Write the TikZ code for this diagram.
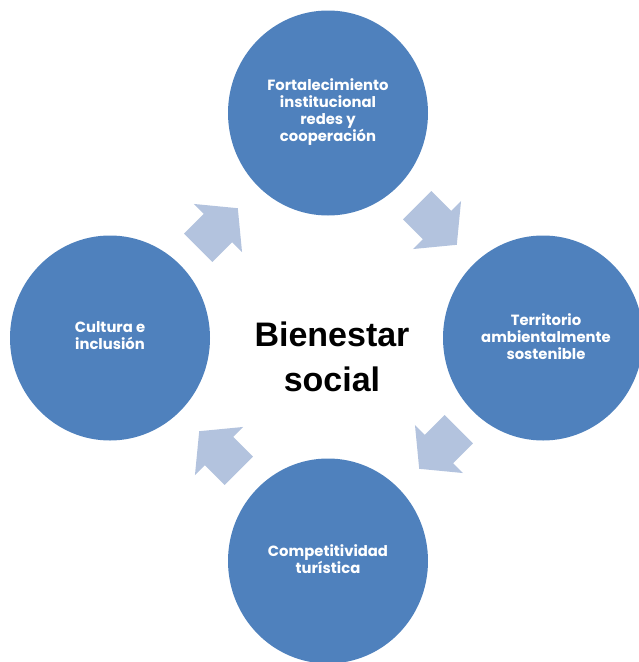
\documentclass[tikz,border=0pt]{standalone}
\usepackage{fontspec}
\setmainfont{Liberation Sans}
\newfontfamily\circfont{Poppins}
\usetikzlibrary{shapes.geometric}
\definecolor{circblue}{HTML}{4F81BD}
\definecolor{arrowblue}{HTML}{B3C3DE}
\tikzset{
  circ/.style={ellipse, fill=circblue, minimum width=200pt, minimum height=205pt, inner sep=0pt},
  circtext/.style={text=white, align=center, font=\circfont\bfseries\fontsize{14.8}{17}\selectfont},
  blockarrow/.style={fill=arrowblue, draw=none}
}
\newcommand{\cyclearrow}[3]{%
  \begin{scope}[shift={(#1,#2)}, rotate=#3]
    \fill[arrowblue] (-28,-20) -- (0,-20) -- (0,-34) -- (28,0) -- (0,34) -- (0,20) -- (-28,20) -- cycle;
  \end{scope}}
\begin{document}
\begin{tikzpicture}[x=1pt,y=-1pt]
\useasboundingbox (0,0) rectangle (639,662);
\node[circ] (top) at (328,113) {};
\node[circ] (right) at (543,338) {};
\node[circ] (bottom) at (328,561) {};
\node[circ] (left) at (110,338) {};
\node[circtext] (ttop) at (328,112) {Fortalecimiento\\institucional\\redes y\\cooperación};
\node[circtext] (tright) at (546,337) {Territorio\\ambientalmente\\sostenible};
\node[circtext] (tbottom) at (328,559) {Competitividad\\turística};
\node[circtext] (tleft) at (110,336) {Cultura e\\inclusión};
\node[align=center, font=\bfseries\fontsize{34}{45}\selectfont] (center) at (332,357) {Bienestar\\social};
\cyclearrow{218}{228}{45}
\cyclearrow{437}{225}{-45}
\cyclearrow{439}{449}{-135}
\cyclearrow{219}{451}{135}
\end{tikzpicture}
\end{document}
